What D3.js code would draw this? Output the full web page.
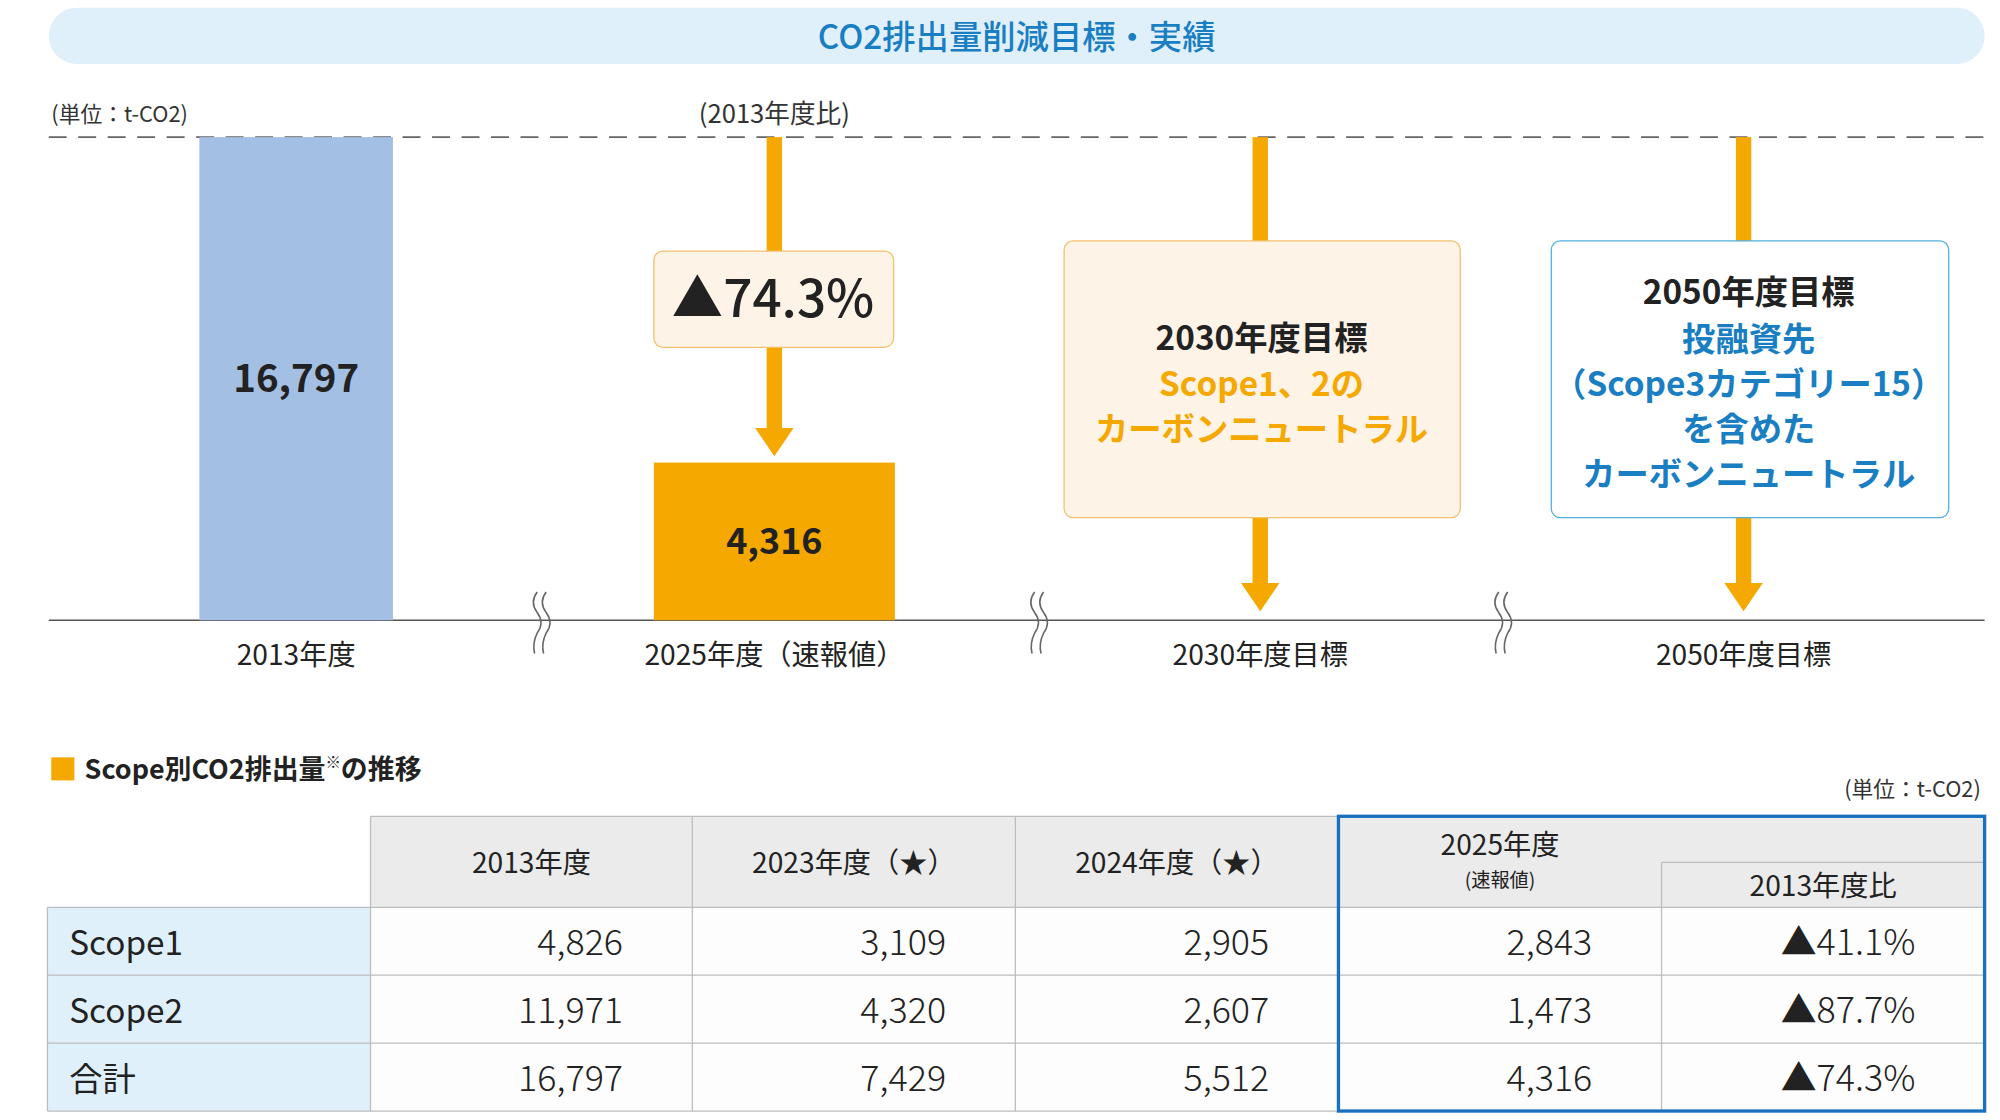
<!DOCTYPE html>
<html><head><meta charset="utf-8">
<script src="https://cdn.jsdelivr.net/npm/d3@7"></script>
<style>body{margin:0;background:#fff}text{font-family:"Noto Sans CJK JP","Noto Sans",sans-serif}</style>
</head><body><div id="chart"></div>
<script>
// data
const barYears = ["2013年度", "2025年度（速報値）", "2030年度目標", "2050年度目標"];
const barValues = [16797, 4316];
const reduction = "▲74.3%";
const target2030 = ["Scope1、2の", "カーボンニュートラル"];
const target2050 = ["投融資先", "（Scope3カテゴリー15）", "を含めた", "カーボンニュートラル"];
const tableCols = ["2013年度", "2023年度（★）", "2024年度（★）"];
const rowLabels = ["Scope1", "Scope2", "合計"];
const v2013 = [4826, 11971, 16797];
const v2023 = [3109, 4320, 7429];
const v2024 = [2905, 2607, 5512];
const v2025 = [2843, 1473, 4316];
const vRatio = ["▲41.1%", "▲87.7%", "▲74.3%"];

const W = 1560, H = 874;
const ORANGE = "#f5a800", BLUE = "#1a7ec2";
const svg = d3.select("#chart").append("svg")
  .attr("width", 2000).attr("height", 1120)
  .attr("viewBox", `0 0 ${W} ${H}`).attr("preserveAspectRatio", "none");

// title
svg.append("rect").attr("x", 38).attr("y", 6).attr("width", 1510).attr("height", 44)
  .attr("rx", 22).attr("fill", "#dff0fa");
svg.append("text").attr("x", 793).attr("y", 38).attr("text-anchor", "middle")
  .attr("font-size", 26).attr("font-weight", 500).attr("fill", BLUE).text("CO2排出量削減目標・実績");

svg.append("text").attr("x", 40).attr("y", 95).attr("font-size", 17).attr("fill", "#333").text("(単位：t-CO2)");
svg.append("text").attr("x", 604).attr("y", 96).attr("font-size", 20).attr("text-anchor", "middle").attr("fill", "#333").text("(2013年度比)");

const x = d3.scalePoint().domain(barYears).range([231, 1360]);
const xc = [231, 604, 983, 1360];
const y = d3.scaleLinear().domain([4316, 16797]).range([361, 107]);
const baseY = 484;

svg.append("line").attr("x1", 38).attr("x2", 1548).attr("y1", 107).attr("y2", 107)
  .attr("stroke", "#666").attr("stroke-width", 1.3).attr("stroke-dasharray", "14,9");
svg.append("line").attr("x1", 38).attr("x2", 1548).attr("y1", baseY).attr("y2", baseY)
  .attr("stroke", "#555").attr("stroke-width", 1.3);

const barW = [151, 188], barC = ["#a3bfe3", ORANGE];
barValues.forEach((v, i) => {
  svg.append("rect").attr("x", xc[i] - barW[i] / 2).attr("y", y(v)).attr("width", barW[i])
    .attr("height", baseY - y(v)).attr("fill", barC[i]);
  svg.append("text").attr("x", xc[i]).attr("y", i ? 432 : 306).attr("text-anchor", "middle")
    .attr("font-size", i ? 28 : 30).attr("font-weight", 700).attr("fill", "#222").text(d3.format(",")(v));
});

barYears.forEach((d, i) => {
  svg.append("text").attr("x", xc[i]).attr("y", 519).attr("text-anchor", "middle")
    .attr("font-size", 22).attr("fill", "#222").text(d);
});

// breaks
[420, 808, 1170].forEach(bx => {
  [-3, 4].forEach(o => {
    svg.append("path").attr("fill", "none").attr("stroke", "#666").attr("stroke-width", 1.2)
      .attr("d", `M${bx + o + 2},462 q-6,8 0,16 q6,8 0,16 q-4,8 -2,16`);
  });
});

function arrow(cx, y0, y1) {
  svg.append("rect").attr("x", cx - 6).attr("y", y0).attr("width", 12).attr("height", y1 - y0 - 20).attr("fill", ORANGE);
  svg.append("path").attr("d", `M${cx - 15},${y1 - 22} L${cx + 15},${y1 - 22} L${cx},${y1} Z`).attr("fill", ORANGE);
}
function stem(cx, y0, y1) {
  svg.append("rect").attr("x", cx - 6).attr("y", y0).attr("width", 12).attr("height", y1 - y0).attr("fill", ORANGE);
}

// 2025 reduction
stem(604, 107, 196);
arrow(604, 271, 356);
svg.append("rect").attr("x", 510).attr("y", 196).attr("width", 187).attr("height", 75).attr("rx", 7)
  .attr("fill", "#fdf3e6").attr("stroke", "#f5c06b");
svg.append("text").attr("x", 603).attr("y", 247).attr("text-anchor", "middle").attr("font-size", 40)
  .attr("font-weight", 500).attr("fill", "#222").text(reduction);

// 2030
stem(983, 107, 188);
arrow(983, 404, 477);
svg.append("rect").attr("x", 830).attr("y", 188).attr("width", 309).attr("height", 216).attr("rx", 7)
  .attr("fill", "#fdf3e6").attr("stroke", "#f5c06b");
svg.append("text").attr("x", 984).attr("y", 273).attr("text-anchor", "middle").attr("font-size", 26)
  .attr("font-weight", 700).attr("fill", "#222").text("2030年度目標");
target2030.forEach((t, i) => svg.append("text").attr("x", 984).attr("y", 309 + i * 35)
  .attr("text-anchor", "middle").attr("font-size", 26).attr("font-weight", 700).attr("fill", ORANGE).text(t));

// 2050
stem(1360, 107, 188);
arrow(1360, 404, 477);
svg.append("rect").attr("x", 1210).attr("y", 188).attr("width", 310).attr("height", 216).attr("rx", 7)
  .attr("fill", "#fff").attr("stroke", "#4fb0e0");
svg.append("text").attr("x", 1364).attr("y", 237).attr("text-anchor", "middle").attr("font-size", 26)
  .attr("font-weight", 700).attr("fill", "#222").text("2050年度目標");
target2050.forEach((t, i) => svg.append("text").attr("x", 1364).attr("y", 274 + i * 35)
  .attr("text-anchor", "middle").attr("font-size", 26).attr("font-weight", 700).attr("fill", BLUE).text(t));

// table title
svg.append("rect").attr("x", 40).attr("y", 591).attr("width", 18).attr("height", 18).attr("fill", ORANGE);
const tt = svg.append("text").attr("x", 66).attr("y", 608).attr("font-size", 21).attr("font-weight", 700).attr("fill", "#222");
tt.append("tspan").text("Scope別CO2排出量");
tt.append("tspan").attr("font-size", 12).attr("dy", -9).text("※");
tt.append("tspan").attr("dy", 9).text("の推移");
svg.append("text").attr("x", 1545).attr("y", 622).attr("text-anchor", "end").attr("font-size", 17).attr("fill", "#333").text("(単位：t-CO2)");

// table
const colX = [37, 289, 540, 792, 1044, 1296, 1548];
const hTop = 637, hBot = 708, rowH = 53;
const grid = "#bdbdbd";
svg.append("rect").attr("x", colX[1]).attr("y", hTop).attr("width", colX[6] - colX[1]).attr("height", hBot - hTop).attr("fill", "#ebebeb");
svg.append("rect").attr("x", colX[0]).attr("y", hBot).attr("width", colX[1] - colX[0]).attr("height", rowH * 3).attr("fill", "#dff0fa");
svg.append("rect").attr("x", colX[1]).attr("y", hBot).attr("width", colX[6] - colX[1]).attr("height", rowH * 3).attr("fill", "#fdfdfd");

// grid lines
[hTop, hBot, hBot + rowH, hBot + 2 * rowH, hBot + 3 * rowH].forEach((gy, i) => {
  svg.append("line").attr("x1", i === 0 ? colX[1] : colX[0]).attr("x2", colX[6]).attr("y1", gy).attr("y2", gy).attr("stroke", grid);
});
svg.append("line").attr("x1", colX[5]).attr("x2", colX[6]).attr("y1", 673).attr("y2", 673).attr("stroke", grid);
colX.forEach((cx, i) => {
  const y0 = (i === 0) ? hBot : (i === 5 ? 673 : hTop);
  svg.append("line").attr("x1", cx).attr("x2", cx).attr("y1", y0).attr("y2", hBot + 3 * rowH).attr("stroke", grid);
});

tableCols.forEach((c, i) => svg.append("text").attr("x", (colX[i + 1] + colX[i + 2]) / 2).attr("y", 681)
  .attr("text-anchor", "middle").attr("font-size", 22).attr("fill", "#222").text(c));
svg.append("text").attr("x", 1170).attr("y", 667).attr("text-anchor", "middle").attr("font-size", 22).attr("fill", "#222").text("2025年度");
svg.append("text").attr("x", 1170).attr("y", 692).attr("text-anchor", "middle").attr("font-size", 15).attr("fill", "#222").text("(速報値)");
svg.append("text").attr("x", 1422).attr("y", 699).attr("text-anchor", "middle").attr("font-size", 22).attr("fill", "#222").text("2013年度比");

const cols = [v2013, v2023, v2024, v2025];
rowLabels.forEach((r, i) => {
  const ty = hBot + i * rowH + 37;
  svg.append("text").attr("x", 54).attr("y", ty).attr("font-size", 26).attr("fill", "#222").text(r);
  cols.forEach((arr, j) => svg.append("text").attr("x", colX[j + 2] - 54).attr("y", ty)
    .attr("text-anchor", "end").attr("font-size", 28).attr("font-weight", 300).attr("fill", "#222").text(d3.format(",")(arr[i])));
  svg.append("text").attr("x", colX[6] - 54).attr("y", ty).attr("text-anchor", "end")
    .attr("font-size", 28).attr("font-weight", 300).attr("fill", "#222").text(vRatio[i]);
});

svg.append("rect").attr("x", colX[4]).attr("y", hTop).attr("width", colX[6] - colX[4]).attr("height", hBot + 3 * rowH - hTop)
  .attr("fill", "none").attr("stroke", "#1a6fbf").attr("stroke-width", 2.6);
</script></body></html>
